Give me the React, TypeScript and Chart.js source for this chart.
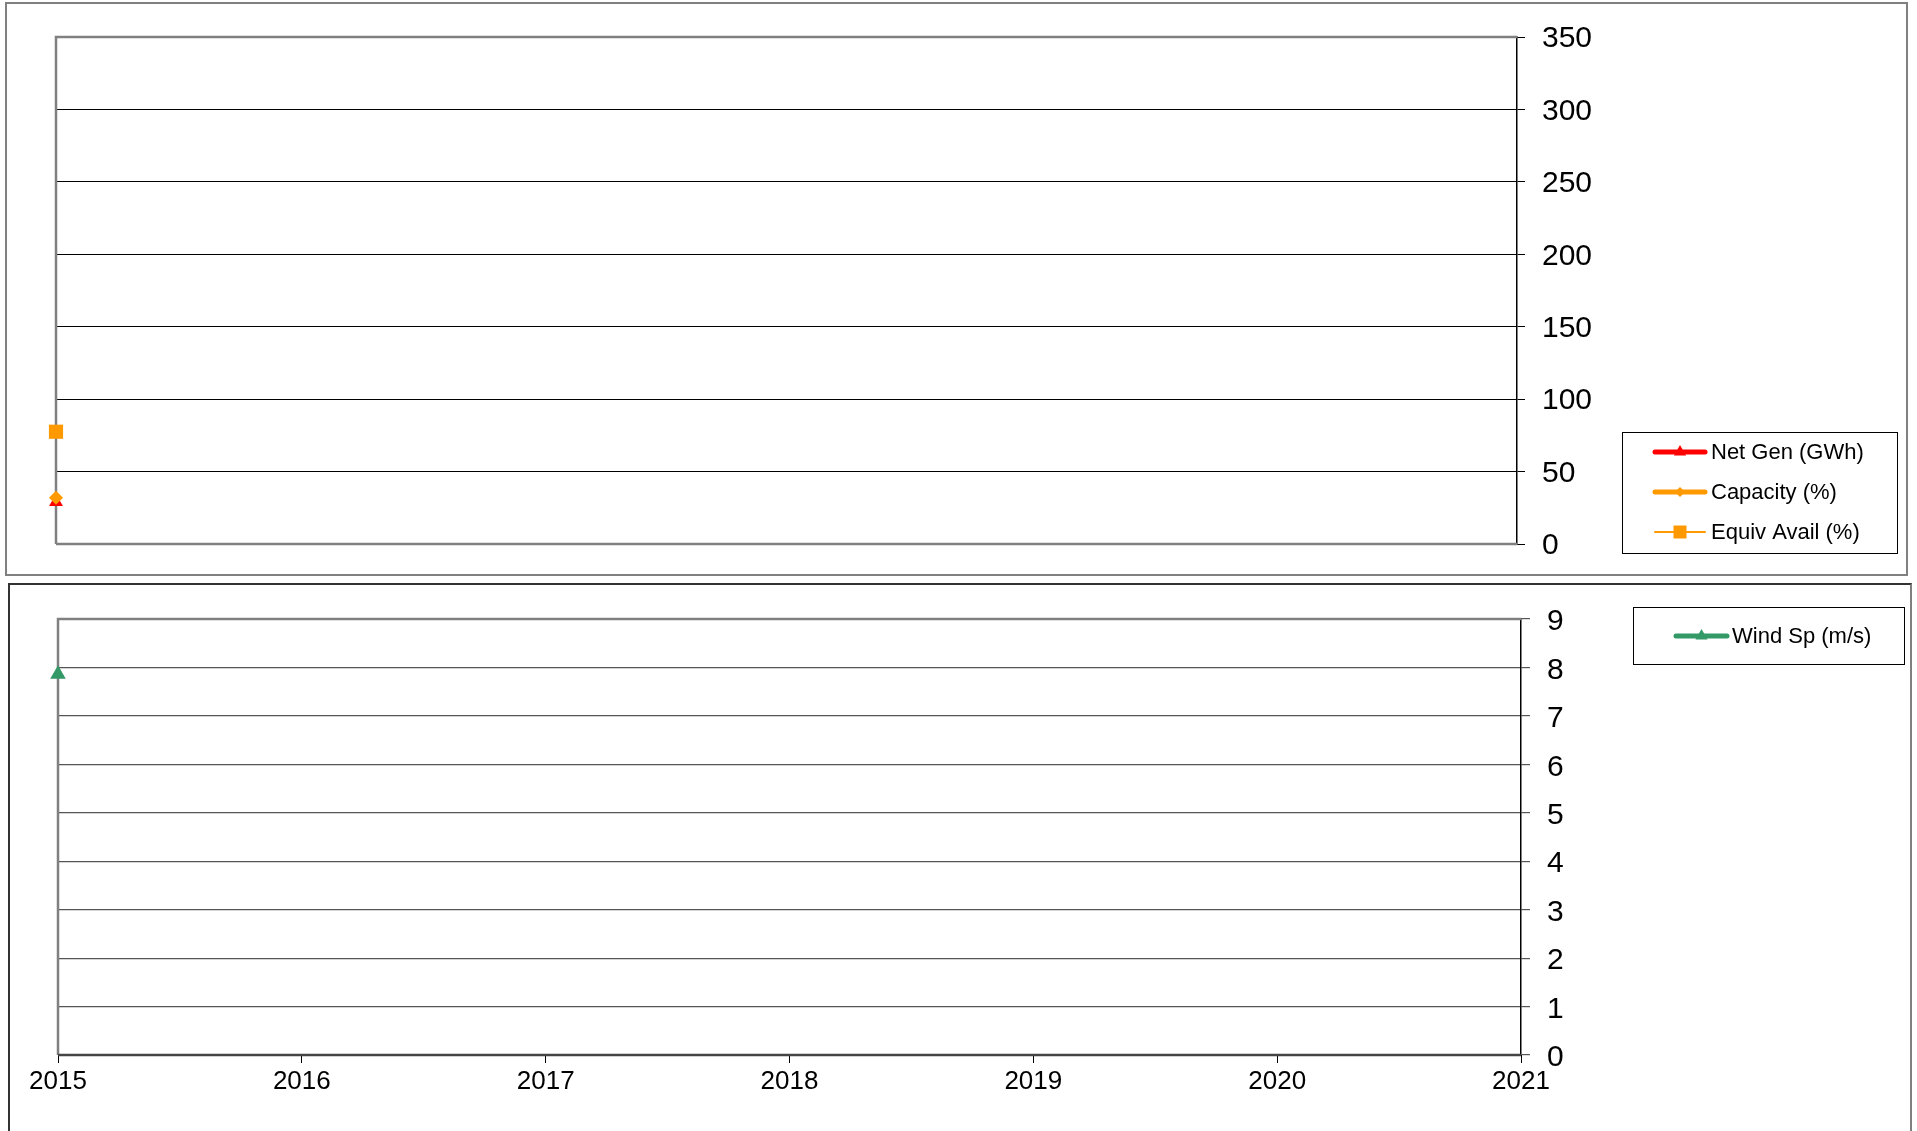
import React, { useEffect, useRef } from "react";
import { Chart, registerables } from "chart.js";

Chart.register(...registerables);

// ---- data ----
const years = [2015];
const netGen = [29];
const capacity = [32];
const equivAvail = [77.5];
const windSpeed = [7.86];
const yearTicks = [2015, 2016, 2017, 2018, 2019, 2020, 2021];
const topTicks = [0, 50, 100, 150, 200, 250, 300, 350];
const bottomTicks = [0, 1, 2, 3, 4, 5, 6, 7, 8, 9];

const FONT = "'Liberation Sans', Arial, sans-serif";

const framePlugin = {
  id: "plotFrame",
  beforeDatasetsDraw(chart: any, _args: any, opts: any) {
    const { ctx, chartArea } = chart;
    const { left, right, top, bottom } = chartArea;
    ctx.save();
    ctx.lineCap = "butt";
    ctx.strokeStyle = opts.color || "#808080";
    ctx.lineWidth = opts.width || 2.5;
    ctx.beginPath();
    ctx.moveTo(right, top);
    ctx.lineTo(left, top);
    ctx.lineTo(left, bottom);
    ctx.stroke();
    ctx.strokeStyle = opts.bottomColor || opts.color || "#808080";
    ctx.beginPath();
    ctx.moveTo(left, bottom);
    ctx.lineTo(right, bottom);
    ctx.stroke();
    ctx.restore();
  },
};

function drawMarker(ctx: CanvasRenderingContext2D, style: string, x: number, y: number, r: number) {
  ctx.beginPath();
  if (style === "triangle") {
    ctx.moveTo(x, y - r);
    ctx.lineTo(x + r * 0.866, y + r * 0.5);
    ctx.lineTo(x - r * 0.866, y + r * 0.5);
    ctx.closePath();
  } else if (style === "rectRot") {
    ctx.moveTo(x, y - r);
    ctx.lineTo(x + r, y);
    ctx.lineTo(x, y + r);
    ctx.lineTo(x - r, y);
    ctx.closePath();
  } else {
    ctx.rect(x - r, y - r, 2 * r, 2 * r);
  }
  ctx.fill();
}

const legendPlugin = {
  id: "boxLegend",
  afterDraw(chart: any, _args: any, opts: any) {
    const { ctx } = chart;
    const [x1, y1, x2, y2] = opts.box;
    ctx.save();
    ctx.fillStyle = "#fff";
    ctx.fillRect(x1, y1, x2 - x1, y2 - y1);
    ctx.strokeStyle = "#000";
    ctx.lineWidth = 1;
    ctx.strokeRect(x1 + 0.5, y1 + 0.5, x2 - x1, y2 - y1);
    chart.data.datasets.forEach((ds: any, i: number) => {
      const y = opts.rows[i];
      const [lx1, lx2] = opts.lineX;
      ctx.strokeStyle = ds.borderColor;
      ctx.lineWidth = ds.legendLineWidth;
      ctx.lineCap = "round";
      ctx.beginPath();
      ctx.moveTo(lx1, y);
      ctx.lineTo(lx2, y);
      ctx.stroke();
      ctx.fillStyle = ds.borderColor;
      drawMarker(ctx, ds.pointStyle, (lx1 + lx2) / 2, y, ds.legendMarker);
      ctx.fillStyle = "#000";
      ctx.font = `22px ${FONT}`;
      ctx.textBaseline = "middle";
      ctx.textAlign = "left";
      ctx.fillText(ds.label, opts.textX, y + 1);
    });
    ctx.restore();
  },
};

function pts(values: number[]) {
  return values.map((v, i) => ({ x: years[i], y: v }));
}

export default function App() {
  const topRef = useRef<HTMLCanvasElement>(null);
  const botRef = useRef<HTMLCanvasElement>(null);

  useEffect(() => {
    const top = new Chart(topRef.current!, {
      type: "line",
      data: {
        datasets: [
          {
            label: "Net Gen (GWh)",
            data: pts(netGen),
            borderColor: "#FF0000",
            backgroundColor: "#FF0000",
            pointStyle: "triangle",
            pointRadius: 8,
            pointBorderWidth: 0,
            borderWidth: 4,
            clip: false,
            order: 2,
            legendLineWidth: 5,
            legendMarker: 7,
          } as any,
          {
            label: "Capacity (%)",
            data: pts(capacity),
            borderColor: "#FF9900",
            backgroundColor: "#FF9900",
            pointStyle: "rectRot",
            pointRadius: 7,
            pointBorderWidth: 0,
            borderWidth: 4,
            clip: false,
            order: 1,
            legendLineWidth: 5,
            legendMarker: 5,
          } as any,
          {
            label: "Equiv Avail (%)",
            data: pts(equivAvail),
            borderColor: "#FF9900",
            backgroundColor: "#FF9900",
            pointStyle: "rect",
            pointRadius: 10,
            pointBorderWidth: 0,
            borderWidth: 2,
            clip: false,
            order: 0,
            legendLineWidth: 2,
            legendMarker: 6.5,
          } as any,
        ],
      },
      options: {
        animation: false,
        responsive: false,
        events: [],
        layout: { padding: { left: 56, top: 37, right: 300, bottom: 36 } },
        plugins: {
          legend: { display: false },
          tooltip: { enabled: false },
          plotFrame: { color: "#808080", width: 2.5 },
          boxLegend: {
            box: [1622, 432, 1897, 553],
            rows: [452, 492, 532],
            lineX: [1655, 1705],
            textX: 1711,
          },
        } as any,
        scales: {
          x: {
            type: "linear",
            min: yearTicks[0],
            max: yearTicks[yearTicks.length - 1],
            display: false,
          },
          y: {
            position: "right",
            min: topTicks[0],
            max: topTicks[topTicks.length - 1],
            afterBuildTicks: (s: any) => {
              s.ticks = topTicks.map((v) => ({ value: v }));
            },
            afterFit: (s: any) => {
              s.width = 100;
            },
            ticks: {
              font: { size: 30, family: FONT },
              color: "#000",
              padding: 17,
              labelOffset: 2,
              callback: (v: any) => String(v),
            },
            grid: { color: "#000", lineWidth: 1, tickLength: 8, drawTicks: true },
            border: { display: true, color: "#000", width: 1.5 },
          },
        },
      },
      plugins: [framePlugin, legendPlugin],
    });

    const bottom = new Chart(botRef.current!, {
      type: "line",
      data: {
        datasets: [
          {
            label: "Wind Sp (m/s)",
            data: pts(windSpeed),
            borderColor: "#339966",
            backgroundColor: "#339966",
            pointStyle: "triangle",
            pointRadius: 9,
            pointBorderWidth: 0,
            borderWidth: 4,
            clip: false,
            legendLineWidth: 5,
            legendMarker: 7,
          } as any,
        ],
      },
      options: {
        animation: false,
        responsive: false,
        events: [],
        layout: { padding: { left: 58, top: 39, right: 296, bottom: 16 } },
        plugins: {
          legend: { display: false },
          tooltip: { enabled: false },
          plotFrame: { color: "#808080", bottomColor: "#444", width: 2.5 },
          boxLegend: {
            box: [1633, 27, 1904, 84],
            rows: [56],
            lineX: [1676, 1727],
            textX: 1732,
          },
        } as any,
        scales: {
          x: {
            type: "linear",
            min: yearTicks[0],
            max: yearTicks[yearTicks.length - 1],
            afterBuildTicks: (s: any) => {
              s.ticks = yearTicks.map((v) => ({ value: v }));
            },
            afterFit: (s: any) => {
              s.height = 60;
            },
            ticks: {
              font: { size: 26, family: FONT },
              color: "#000",
              padding: 3,
              maxRotation: 0,
              autoSkip: false,
              callback: (v: any) => String(v),
            },
            grid: { drawOnChartArea: false, drawTicks: true, tickLength: 8, color: "#000", lineWidth: 1 },
            border: { display: false },
          },
          y: {
            position: "right",
            min: bottomTicks[0],
            max: bottomTicks[bottomTicks.length - 1],
            afterBuildTicks: (s: any) => {
              s.ticks = bottomTicks.map((v) => ({ value: v }));
            },
            afterFit: (s: any) => {
              s.width = 100;
            },
            ticks: {
              font: { size: 30, family: FONT },
              color: "#000",
              padding: 17,
              labelOffset: 3,
              callback: (v: any) => String(v),
            },
            grid: { color: "#555", lineWidth: 1.2, tickLength: 9, drawTicks: true },
            border: { display: true, color: "#000", width: 1.5 },
          },
        },
      },
      plugins: [framePlugin, legendPlugin],
    });

    return () => {
      top.destroy();
      bottom.destroy();
    };
  }, []);

  return (
    <div style={{ position: "absolute", left: 0, top: 0, width: 1917, height: 1131, overflow: "hidden", background: "#fff" }}>
      <div
        style={{
          position: "absolute",
          left: 5,
          top: 2,
          width: 1903,
          height: 574,
          boxSizing: "border-box",
          border: "2px solid #808080",
        }}
      />
      <div
        style={{
          position: "absolute",
          left: 8,
          top: 583,
          width: 1904,
          height: 600,
          boxSizing: "border-box",
          borderTop: "2px solid #333",
          borderLeft: "2px solid #333",
          borderRight: "2px solid #808080",
        }}
      />
      <canvas ref={topRef} width={1917} height={580} style={{ position: "absolute", left: 0, top: 0, display: "block" }} />
      <canvas ref={botRef} width={1917} height={551} style={{ position: "absolute", left: 0, top: 580, display: "block" }} />
    </div>
  );
}
